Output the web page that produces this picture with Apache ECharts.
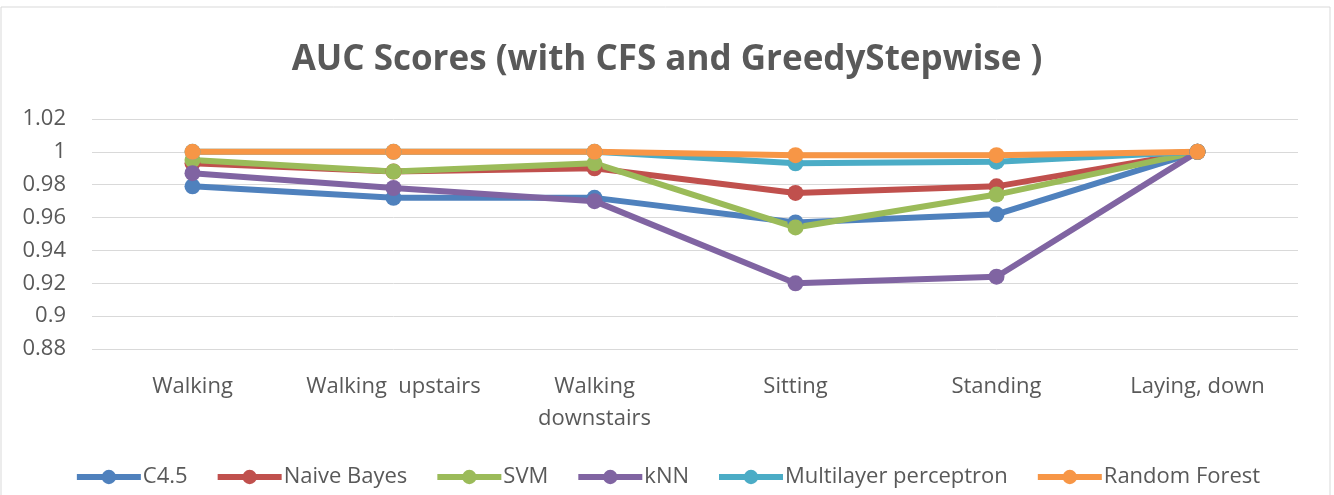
<!DOCTYPE html>
<html>
<head>
<meta charset="utf-8">
<script src="https://cdn.jsdelivr.net/npm/echarts@6/dist/echarts.min.js"></script>
<style>
  html, body { margin: 0; padding: 0; background: #fff; }
  #chart { width: 1334px; height: 495px; }
</style>
</head>
<body>
<div id="chart"></div>
<script>
const categories = ["Walking", "Walking  upstairs", "Walking downstairs", "Sitting", "Standing", "Laying, down"];
const c45 = [0.979, 0.972, 0.972, 0.957, 0.962, 1.0];
const naiveBayes = [0.993, 0.988, 0.990, 0.975, 0.979, 1.0];
const svm = [0.995, 0.988, 0.993, 0.954, 0.974, 1.0];
const knn = [0.987, 0.978, 0.970, 0.920, 0.924, 1.0];
const mlp = [1.0, 1.0, 1.0, 0.993, 0.994, 1.0];
const randomForest = [1.0, 1.0, 1.0, 0.998, 0.998, 1.0];
const yTicks = [0.88, 0.9, 0.92, 0.94, 0.96, 0.98, 1, 1.02];

const seriesList = [
  { name: "C4.5", data: c45, color: "#4F81BD" },
  { name: "Naive Bayes", data: naiveBayes, color: "#C0504D" },
  { name: "SVM", data: svm, color: "#9BBB59" },
  { name: "kNN", data: knn, color: "#8064A2" },
  { name: "Multilayer perceptron", data: mlp, color: "#4BACC6" },
  { name: "Random Forest", data: randomForest, color: "#F79646" }
];

const font = "'Open Sans', sans-serif";
const chart = echarts.init(document.getElementById("chart"));

chart.setOption({
  animation: false,
  title: {
    text: "AUC Scores (with CFS and GreedyStepwise )",
    left: "center",
    top: 38,
    textStyle: { fontFamily: font, fontSize: 35, fontWeight: "bold", color: "#595959" }
  },
  graphic: [{
    type: "rect",
    shape: { x: 1, y: 7, width: 1329, height: 495 },
    style: { fill: "none", stroke: "#d9d9d9", lineWidth: 1 },
    silent: true
  }],
  legend: {
    top: 461,
    left: "center",
    itemWidth: 64,
    itemHeight: 18,
    itemGap: 27,
    lineStyle: { width: 6 },
    textStyle: { fontFamily: font, fontSize: 22, color: "#595959", padding: [0, 0, 0, -3] },
    data: seriesList.map(s => s.name)
  },
  grid: { left: 92, right: 36, top: 119, bottom: 146, containLabel: false },
  xAxis: {
    type: "category",
    data: categories,
    axisLine: { show: false },
    axisTick: { show: false },
    axisLabel: {
      interval: 0,
      margin: 22,
      fontFamily: font,
      fontSize: 22,
      lineHeight: 32,
      color: "#595959",
      formatter: v => v.replace(" downstairs", "\ndownstairs")
    }
  },
  yAxis: {
    type: "value",
    min: yTicks[0],
    max: yTicks[yTicks.length - 1],
    interval: 0.02,
    axisLine: { show: false },
    axisTick: { show: false },
    splitLine: { lineStyle: { color: "#d9d9d9", width: 1 } },
    axisLabel: {
      margin: 26,
      fontFamily: font,
      fontSize: 22,
      color: "#595959",
      formatter: v => String(Math.round(v * 100) / 100)
    }
  },
  series: seriesList.map(s => ({
    name: s.name,
    type: "line",
    data: s.data,
    symbol: "circle",
    symbolSize: 16,
    lineStyle: { width: 6, color: s.color },
    itemStyle: { color: s.color }
  }))
});
</script>
</body>
</html>
